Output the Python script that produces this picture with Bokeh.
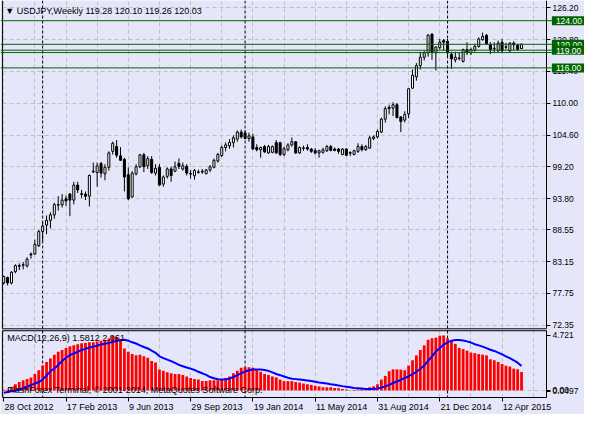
from bokeh.plotting import figure
from bokeh.models import (Range1d, FixedTicker, Grid, Span, Label, LinearAxis,
                          PrintfTickFormatter, ColumnDataSource)
from bokeh.core.properties import value
from bokeh.embed import file_html
from bokeh.resources import INLINE

# ---------------- data ----------------
symbol_title = "\u25bc USDJPY,Weekly  119.28 120.10 119.26 120.03"
macd_title = "MACD(12,26,9) 1.5812 2.061"
copyright_text = "FlashForex Terminal, \u00a9 2001-2014, MetaQuotes Software Corp."

opens = [79.54, 80.46, 79.54, 81.44, 82.48, 82.53, 82.42, 84.44, 84.44, 85.85,
         88.25, 89.34, 90.16, 91.07, 92.72, 92.77, 93.80, 94.61, 93.58, 96.13,
         94.66, 94.61, 94.24, 98.37, 98.25, 99.79, 98.04, 99.14, 101.85, 102.66,
         101.09, 100.49, 97.88, 94.12, 98.04, 99.23, 101.26, 99.40, 100.49, 98.16,
         99.14, 96.29, 97.60, 98.86, 98.48, 99.79, 98.86, 99.30, 98.09, 97.72,
         98.27, 98.47, 98.04, 98.69, 99.14, 100.21, 101.14, 102.50, 102.78, 103.32,
         103.92, 105.11, 104.95, 104.03, 104.30, 102.50, 102.12, 102.66, 101.58, 101.68,
         103.32, 103.32, 101.31, 102.12, 102.94, 103.48, 101.58, 102.35, 102.50, 102.24,
         101.96, 101.58, 101.68, 101.96, 102.66, 102.24, 102.24, 101.31, 102.24, 101.63,
         101.31, 101.85, 102.66, 102.12, 102.40, 104.03, 104.30, 105.11, 107.30, 109.31,
         109.19, 109.75, 107.67, 107.14, 108.21, 112.57, 114.48, 116.38, 117.80, 118.56,
         121.72, 118.56, 119.43, 120.62, 120.52, 118.29, 117.36, 117.59, 117.10, 119.10,
         118.56, 118.99, 119.64, 120.79, 121.55, 119.97, 119.22, 118.89, 120.36, 119.50,
         118.89, 120.20, 119.81, 119.28]
highs = [80.78, 80.62, 81.55, 82.69, 82.86, 83.07, 83.89, 84.70, 86.89, 88.52,
         89.88, 90.97, 91.51, 93.14, 94.24, 94.61, 94.34, 94.78, 96.69, 96.69,
         95.31, 95.05, 97.93, 99.95, 99.95, 100.05, 99.67, 101.85, 103.48, 103.76,
         102.56, 100.77, 99.14, 98.48, 99.67, 101.42, 101.58, 101.03, 101.03, 99.67,
         99.67, 97.76, 99.14, 99.23, 100.12, 100.65, 99.95, 99.67, 98.69, 98.86,
         98.74, 98.86, 98.86, 99.51, 100.61, 101.58, 102.83, 103.38, 103.92, 104.57,
         105.39, 105.55, 105.39, 105.01, 104.85, 103.05, 102.66, 102.94, 102.94, 102.83,
         103.76, 103.48, 102.66, 103.22, 104.20, 103.59, 102.66, 102.83, 103.05, 102.40,
         102.40, 102.12, 102.45, 102.94, 102.94, 102.50, 102.40, 102.40, 102.40, 101.85,
         102.12, 103.22, 103.05, 102.94, 104.46, 104.57, 105.55, 107.56, 109.47, 109.75,
         110.17, 110.01, 107.84, 108.65, 112.57, 115.72, 116.82, 118.73, 118.89, 121.72,
         121.88, 119.64, 120.90, 120.90, 120.90, 118.73, 118.73, 118.56, 119.27, 120.36,
         119.43, 120.08, 121.18, 121.99, 121.72, 120.36, 120.36, 120.62, 120.90, 120.25,
         120.36, 120.52, 120.08, 120.10]
lows = [79.27, 79.10, 79.27, 81.18, 81.71, 81.83, 82.16, 83.63, 84.33, 85.63,
        86.61, 87.80, 88.78, 90.42, 91.79, 92.33, 92.61, 90.86, 92.87, 94.78,
        93.96, 93.58, 92.49, 98.16, 95.87, 97.39, 96.95, 98.58, 101.31, 100.77,
        100.21, 95.05, 93.58, 93.96, 97.76, 99.02, 98.32, 98.86, 98.04, 97.76,
        95.97, 95.87, 97.23, 96.69, 98.32, 98.86, 98.58, 97.76, 97.23, 97.06,
        98.04, 98.04, 98.04, 98.32, 98.97, 99.95, 100.87, 101.85, 102.29, 102.50,
        103.48, 104.03, 103.87, 103.48, 102.12, 101.85, 100.77, 101.58, 101.42, 101.52,
        101.42, 101.03, 101.03, 101.85, 102.66, 101.42, 101.42, 101.96, 101.96, 101.58,
        101.31, 100.77, 101.47, 101.75, 101.85, 101.85, 101.42, 101.19, 101.03, 101.03,
        101.19, 101.58, 101.85, 101.96, 102.29, 103.76, 104.03, 104.95, 106.74, 108.12,
        107.84, 107.46, 105.11, 106.74, 107.46, 112.46, 113.83, 115.72, 117.26, 117.91,
        117.36, 115.56, 119.10, 118.99, 117.91, 115.84, 116.93, 117.26, 116.93, 118.17,
        118.17, 118.73, 119.43, 120.62, 119.97, 118.34, 118.56, 118.73, 118.61, 119.10,
        118.73, 118.99, 118.89, 119.26]
closes = [80.62, 79.54, 81.34, 82.48, 82.37, 82.63, 83.56, 84.28, 86.07, 88.25,
          89.18, 90.16, 91.07, 92.82, 92.82, 93.58, 93.42, 93.58, 96.13, 95.31,
          94.56, 94.24, 97.76, 98.47, 99.40, 98.16, 99.14, 101.58, 103.22, 101.19,
          100.33, 97.50, 93.80, 98.16, 99.23, 101.26, 99.23, 100.61, 98.25, 98.97,
          96.13, 97.50, 98.86, 97.76, 99.23, 99.30, 99.40, 98.16, 97.99, 98.58,
          98.37, 98.37, 98.69, 99.23, 100.33, 101.31, 102.50, 102.94, 103.38, 104.13,
          105.11, 104.30, 104.03, 104.46, 102.24, 102.12, 102.50, 101.75, 102.66, 102.66,
          101.58, 101.31, 102.29, 102.94, 103.48, 101.58, 102.50, 102.45, 102.24, 101.85,
          101.58, 101.96, 102.12, 102.66, 102.01, 102.01, 101.85, 102.24, 101.19, 101.54,
          101.96, 102.66, 102.12, 102.66, 104.13, 104.30, 105.23, 107.30, 109.10, 109.10,
          109.75, 107.56, 106.91, 108.12, 112.46, 114.74, 116.38, 117.80, 118.56, 121.55,
          118.61, 119.54, 120.36, 120.36, 118.56, 117.52, 117.80, 117.68, 119.10, 118.56,
          119.10, 119.64, 120.90, 121.34, 120.08, 119.10, 119.32, 120.20, 118.89, 119.59,
          120.20, 119.92, 119.15, 120.03]

macd_main = [0.05, 0.08, 0.27, 0.53, 0.72, 0.88, 0.99, 1.12, 1.41, 1.73,
             2.13, 2.45, 2.75, 3.07, 3.33, 3.47, 3.65, 3.79, 3.87, 3.97,
             4.05, 4.08, 4.13, 4.13, 4.21, 4.27, 4.32, 4.45, 4.68, 4.59,
             4.35, 3.60, 3.33, 3.12, 3.01, 3.07, 2.93, 2.80, 2.53, 2.40,
             1.79, 1.68, 1.55, 1.47, 1.41, 1.41, 1.33, 1.20, 1.07, 0.99,
             0.93, 0.80, 0.80, 0.88, 0.88, 0.88, 0.99, 1.07, 1.20, 1.47,
             1.68, 1.95, 2.00, 2.00, 1.95, 1.79, 1.60, 1.41, 1.33, 1.20,
             1.12, 0.93, 0.80, 0.80, 0.80, 0.72, 0.67, 0.59, 0.53, 0.48,
             0.40, 0.35, 0.27, 0.27, 0.27, 0.21, 0.19, 0.13, 0.08, -0.03,
             -0.05, 0.08, 0.13, 0.19, 0.27, 0.35, 0.53, 0.93, 1.25, 1.65,
             1.81, 1.81, 1.79, 1.73, 2.13, 2.59, 3.01, 3.47, 3.87, 4.35,
             4.48, 4.53, 4.70, 4.72, 4.48, 4.27, 4.00, 3.65, 3.55, 3.41,
             3.25, 3.20, 3.12, 3.07, 3.01, 2.67, 2.59, 2.45, 2.27, 2.13,
             2.05, 1.87, 1.81, 1.58]
macd_signal = [-0.19, -0.13, -0.08, -0.03, 0.08, 0.19, 0.32, 0.45, 0.59, 0.72,
               0.93, 1.28, 1.65, 1.87, 2.19, 2.53, 2.80, 3.04, 3.17, 3.31,
               3.47, 3.57, 3.68, 3.76, 3.84, 3.95, 4.00, 4.08, 4.16, 4.24,
               4.32, 4.35, 4.27, 4.13, 4.03, 3.87, 3.73, 3.60, 3.41, 3.23,
               2.93, 2.77, 2.64, 2.51, 2.37, 2.19, 2.08, 1.97, 1.87, 1.76,
               1.60, 1.47, 1.33, 1.15, 1.04, 0.96, 0.93, 0.96, 1.01, 1.15,
               1.31, 1.47, 1.63, 1.73, 1.79, 1.79, 1.79, 1.76, 1.68, 1.55,
               1.41, 1.31, 1.20, 1.09, 1.01, 0.97, 0.93, 0.89, 0.85, 0.80,
               0.75, 0.69, 0.64, 0.59, 0.53, 0.48, 0.43, 0.37, 0.32, 0.27,
               0.21, 0.19, 0.16, 0.13, 0.13, 0.13, 0.16, 0.24, 0.35, 0.48,
               0.64, 0.77, 0.91, 1.07, 1.20, 1.39, 1.60, 1.84, 2.13, 2.53,
               2.93, 3.33, 3.65, 3.92, 4.13, 4.27, 4.32, 4.32, 4.29, 4.21,
               4.11, 3.97, 3.87, 3.76, 3.63, 3.49, 3.39, 3.25, 3.09, 2.93,
               2.77, 2.59, 2.38, 2.10]

date_labels = ["28 Oct 2012", "17 Feb 2013", "9 Jun 2013", "29 Sep 2013",
               "19 Jan 2014", "11 May 2014", "31 Aug 2014", "21 Dec 2014",
               "12 Apr 2015"]
date_label_bars = [0, 16, 32, 48, 64, 80, 96, 112, 128]
grid_bars = [0, 8, 16, 24, 32, 40, 48, 56, 64, 72, 80, 88, 96, 104, 112, 120, 128, 136]
year_start_bars = [10, 62, 114]
price_ticks = [126.20, 120.80, 115.40, 110.00, 104.60, 99.20, 93.80, 88.55, 83.15, 77.75, 72.35]
level_prices = [124.00, 120.00, 119.00, 118.60, 116.00]
boxed_levels = [124.00, 120.00, 119.00, 116.00]
boxed_level_labels = ["124.00", "120.00", "119.00", "116.00"]
macd_ticks = [4.721, 0, -0.0497]
macd_tick_labels = ["4.721", "0.00", "0.0497"]

# ---------------- layout helpers (reference pixel -> data) ----------------
def bar_at(X):
    return (X - 3.3) / 4.0

def price_at(Y):
    return 124.0 - (Y - 21.0) / 6.125

def macd_at(Y):
    return (405.0 - Y) / 12.1

BG = "#E6E6FA"
FONT = "Liberation Sans"
GRID = "#C0C0C0"
LEVEL = "#006400"
W, H = 584, 414

# one figure whose frame is the whole picture; panels are laid out in data space
p = figure(width=W, height=H,
           x_range=Range1d(bar_at(0), bar_at(600)),
           y_range=Range1d(price_at(430), price_at(0)),
           output_backend="svg", toolbar_location=None,
           x_axis_location=None, y_axis_location=None,
           min_border_left=0, min_border_right=0, min_border_top=0, min_border_bottom=0,
           background_fill_color=BG, border_fill_color=BG, outline_line_color=None)
p.extra_y_ranges = {"macd": Range1d(macd_at(430), macd_at(0))}

L_EDGE, R_EDGE = bar_at(2), bar_at(561)

# ---- grids ----
p.add_layout(Grid(dimension=0, ticker=FixedTicker(ticks=grid_bars),
                  cross_bounds=(price_at(412), price_at(0)),
                  grid_line_color=GRID, grid_line_dash="4 3"))
p.add_layout(Grid(dimension=1, ticker=FixedTicker(ticks=price_ticks),
                  cross_bounds=(L_EDGE, R_EDGE),
                  grid_line_color=GRID, grid_line_dash="4 3"))
p.add_layout(Grid(dimension=1, y_range_name="macd", ticker=FixedTicker(ticks=[0]),
                  cross_bounds=(L_EDGE, R_EDGE),
                  grid_line_color=GRID, grid_line_dash="4 3"))

# ---- year separators ----
p.segment(x0=year_start_bars, y0=[price_at(0)] * 3, x1=year_start_bars,
          y1=[price_at(412)] * 3, line_color="black", line_width=1, line_dash="3 2")

# ---- panel borders ----
p.segment(x0=[L_EDGE, L_EDGE], y0=[price_at(0), price_at(341)],
          x1=[L_EDGE, R_EDGE], y1=[price_at(341), price_at(341)],
          line_color="black", line_width=1)
p.segment(x0=[L_EDGE, L_EDGE], y0=[macd_at(343), macd_at(343)],
          x1=[L_EDGE, R_EDGE], y1=[macd_at(412), macd_at(343)],
          line_color="black", line_width=1, y_range_name="macd")

# ---- candles ----
idx = list(range(len(opens)))
src = ColumnDataSource(dict(
    x=idx, o=opens, h=highs, l=lows, c=closes,
    top=[max(o, c) for o, c in zip(opens, closes)],
    bottom=[min(o, c) for o, c in zip(opens, closes)],
    fill=["white" if c >= o else "black" for o, c in zip(opens, closes)],
))
p.segment(x0="x", y0="l", x1="x", y1="h", source=src, line_color="black", line_width=1)
p.vbar(x="x", width=0.52, top="top", bottom="bottom", source=src,
       fill_color="fill", line_color="black", line_width=1)

# ---- MACD ----
p.vbar(x=idx, top=macd_main, bottom=0, width=0.72, fill_color="#FF0000",
       line_color=None, y_range_name="macd")
p.line(idx, macd_signal, line_color="#0000FF", line_width=2, y_range_name="macd")

# ---- axes (drawn at fixed positions inside the frame) ----
price_axis = LinearAxis(fixed_location=R_EDGE, bounds=(price_at(341), price_at(0)),
                        ticker=FixedTicker(ticks=price_ticks),
                        formatter=PrintfTickFormatter(format="%.2f"),
                        major_tick_in=0, major_tick_out=4, minor_tick_line_color=None,
                        major_label_standoff=2, major_label_text_font=FONT,
                        major_label_text_font_size="8.5px", major_label_text_color="black",
                        axis_line_color="black", major_tick_line_color="black")
p.add_layout(price_axis, "right")

macd_axis = LinearAxis(y_range_name="macd", fixed_location=R_EDGE,
                       bounds=(macd_at(412), macd_at(343)),
                       ticker=FixedTicker(ticks=macd_ticks),
                       major_label_overrides=dict(zip(macd_ticks, macd_tick_labels)),
                       major_tick_in=0, major_tick_out=4, minor_tick_line_color=None,
                       major_label_standoff=2, major_label_text_font=FONT,
                       major_label_text_font_size="8.5px", major_label_text_color="black",
                       axis_line_color="black", major_tick_line_color="black")
p.add_layout(macd_axis, "right")

date_axis = LinearAxis(y_range_name="macd", fixed_location=macd_at(412),
                       bounds=(L_EDGE, R_EDGE),
                       ticker=FixedTicker(ticks=date_label_bars),
                       major_tick_in=0, major_tick_out=4, minor_tick_line_color=None,
                       major_label_text_color=None, major_label_text_font_size="9px",
                       axis_line_color="black", major_tick_line_color="black")
p.add_layout(date_axis, "below")

p.text(x=[b + 0.2 for b in date_label_bars], y=[macd_at(422)] * len(date_label_bars),
       text=date_labels, text_font=value(FONT), text_font_size="9px",
       text_color="black", text_align="left", text_baseline="middle",
       y_range_name="macd")

# ---- level lines and their price boxes ----
for lv in level_prices:
    p.add_layout(Span(location=lv, dimension="width", line_color=LEVEL, line_width=1))

for lv, txt in zip(boxed_levels, boxed_level_labels):
    p.add_layout(Label(x=bar_at(566.5), y=lv, text=txt, text_font=FONT,
                       text_font_size="8.5px", text_color="white",
                       text_align="left", text_baseline="middle",
                       background_fill_color=LEVEL,
                       padding=dict(left=4, right=9, top=2, bottom=1)))

# ---- texts ----
p.add_layout(Label(x=bar_at(5), y=price_at(11), text=symbol_title, text_font=FONT,
                   text_font_size="9px", text_color="black",
                   text_align="left", text_baseline="middle"))
p.add_layout(Label(x=bar_at(7), y=macd_at(351), y_range_name="macd", text=macd_title,
                   text_font=FONT, text_font_size="9px", text_color="black",
                   text_align="left", text_baseline="middle"))
p.add_layout(Label(x=bar_at(7), y=macd_at(405), y_range_name="macd", text=copyright_text,
                   text_font=FONT, text_font_size="9px", text_color="black",
                   text_align="left", text_baseline="middle"))

open("out.html", "w").write(file_html(p, INLINE))
